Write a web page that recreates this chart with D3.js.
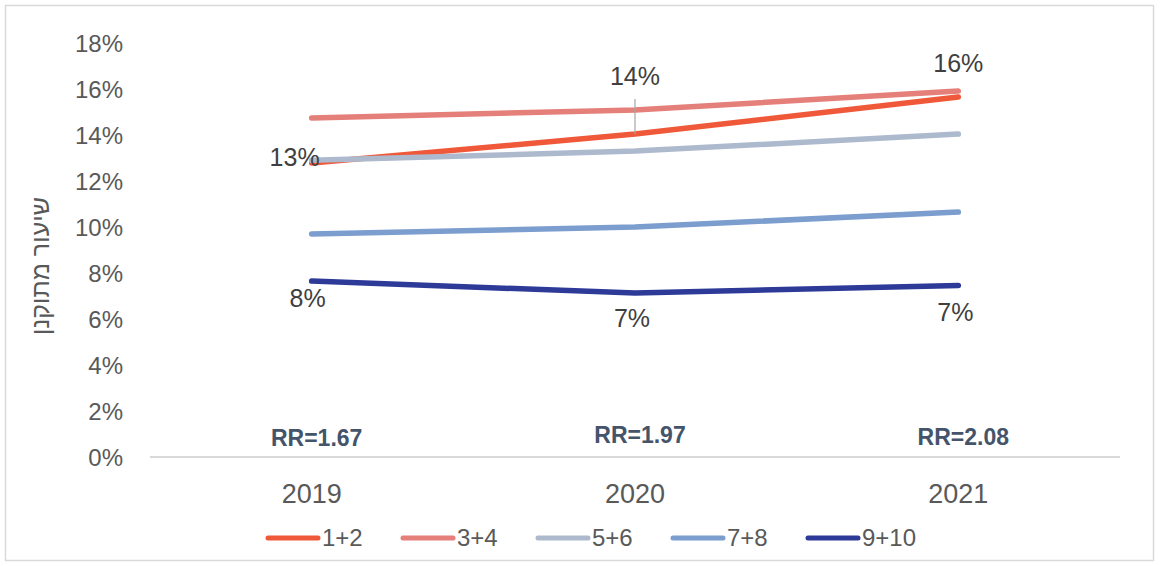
<!DOCTYPE html>
<html><head><meta charset="utf-8">
<script src="https://cdn.jsdelivr.net/npm/d3@7/dist/d3.min.js"></script>
<style>
html,body{margin:0;padding:0;background:#fff;}
text{font-family:"Liberation Sans",Arial,sans-serif;}
</style></head>
<body><svg id="c" width="1160" height="566"></svg>
<script>
const years = ["2019","2020","2021"];
const seriesNames = ["1+2","3+4","5+6","7+8","9+10"];
const s12 = [0.1278, 0.1404, 0.1565];
const s34 = [0.1474, 0.1509, 0.1591];
const s56 = [0.1290, 0.1330, 0.1404];
const s78 = [0.0970, 0.1000, 0.1065];
const s910 = [0.0765, 0.0713, 0.0746];
const yTicks = [0,0.02,0.04,0.06,0.08,0.10,0.12,0.14,0.16,0.18];
const rrLabels = ["RR=1.67","RR=1.97","RR=2.08"];
const colors = ["#F0583A","#E57F79","#ADB9CD","#7B9ECF","#2D3A98"];
const yTitle = "שיעור מתוקנן";

const svg = d3.select("#c");
svg.append("rect").attr("x",5.5).attr("y",5.5).attr("width",1148).attr("height",555)
  .attr("fill","#fff").attr("stroke","#D9D9D9").attr("stroke-width",1.5);

const x = d3.scaleBand().domain(years).range([150,1120]);
const cx = d => x(d)+x.bandwidth()/2;
const y = d3.scaleLinear().domain([0,0.18]).range([457,43]);

// y axis labels
const yAxis = d3.axisLeft(y).tickValues(yTicks).tickFormat(d3.format(".0%")).tickSize(0).tickPadding(0);
const gy = svg.append("g").attr("transform","translate(123,0)").call(yAxis);
gy.select(".domain").remove();
gy.selectAll("text").attr("font-size",24).attr("fill","#595959").attr("font-family","Liberation Sans, Arial, sans-serif").attr("dy","0.35em");

// baseline
svg.append("line").attr("x1",150).attr("x2",1120).attr("y1",y(0)).attr("y2",y(0))
  .attr("stroke","#D9D9D9").attr("stroke-width",2);

// x axis labels
const xAxis = d3.axisBottom(x).tickSize(0).tickPadding(0);
const gx = svg.append("g").attr("transform","translate(0,"+(y(0)+46)+")").call(xAxis);
gx.select(".domain").remove();
gx.selectAll("text").attr("font-size",27).attr("fill","#595959").attr("font-family","Liberation Sans, Arial, sans-serif").attr("dy","0");

// y title
svg.append("text").attr("transform","translate(49,266) rotate(-90)")
  .attr("text-anchor","middle").attr("font-size",25).attr("fill","#595959")
  .attr("direction","rtl").text(yTitle);

const allSeries = [s12,s34,s56,s78,s910];
const line = d3.line().x((d,i)=>cx(years[i])).y(d=>y(d));
allSeries.forEach((s,k)=>{
  svg.append("path").datum(s).attr("d",line).attr("fill","none")
    .attr("stroke",colors[k]).attr("stroke-width",5.5)
    .attr("stroke-linecap","round").attr("stroke-linejoin","round");
});

const fmt = d3.format(".0%");
const lab = {size:25, fill:"#404040"};
// 1+2 labels
svg.append("line").attr("x1",cx("2020")).attr("x2",cx("2020")).attr("y1",y(s12[1])-35).attr("y2",y(s12[1]))
  .attr("stroke","#A6A6A6").attr("stroke-width",1.2);
svg.append("text").attr("x",cx("2019")+8).attr("y",y(s12[0])+3).attr("text-anchor","end")
  .attr("font-size",lab.size).attr("fill",lab.fill).text(fmt(s12[0]));
svg.append("text").attr("x",cx("2020")).attr("y",y(s12[1])-49).attr("text-anchor","middle")
  .attr("font-size",lab.size).attr("fill",lab.fill).text(fmt(s12[1]));
svg.append("text").attr("x",cx("2021")).attr("y",y(s12[2])-25).attr("text-anchor","middle")
  .attr("font-size",lab.size).attr("fill",lab.fill).text(fmt(s12[2]));
// 9+10 labels
const off910 = [26,34,36];
const dx910 = [-4,-3,-3];
s910.forEach((v,i)=>{
  svg.append("text").attr("x",cx(years[i])+dx910[i]).attr("y",y(v)+off910[i]).attr("text-anchor","middle")
    .attr("font-size",lab.size).attr("fill",lab.fill).text(fmt(v));
});

// RR labels
const rrDy = [446,443,445];
rrLabels.forEach((t,i)=>{
  svg.append("text").attr("x",cx(years[i])+5).attr("y",rrDy[i]).attr("text-anchor","middle")
    .attr("font-size",23).attr("font-weight","bold").attr("fill","#44546A").text(t);
});

// legend
const lg = svg.append("g").attr("transform","translate(266,538)");
seriesNames.forEach((n,i)=>{
  const g = lg.append("g").attr("transform","translate("+(i*135)+",0)");
  g.append("line").attr("x1",2).attr("x2",52).attr("y1",0).attr("y2",0)
    .attr("stroke",colors[i]).attr("stroke-width",5).attr("stroke-linecap","round");
  g.append("text").attr("x",56).attr("y",0).attr("dy","0.35em").attr("font-size",24)
    .attr("fill","#595959").text(n);
});
</script></body></html>
